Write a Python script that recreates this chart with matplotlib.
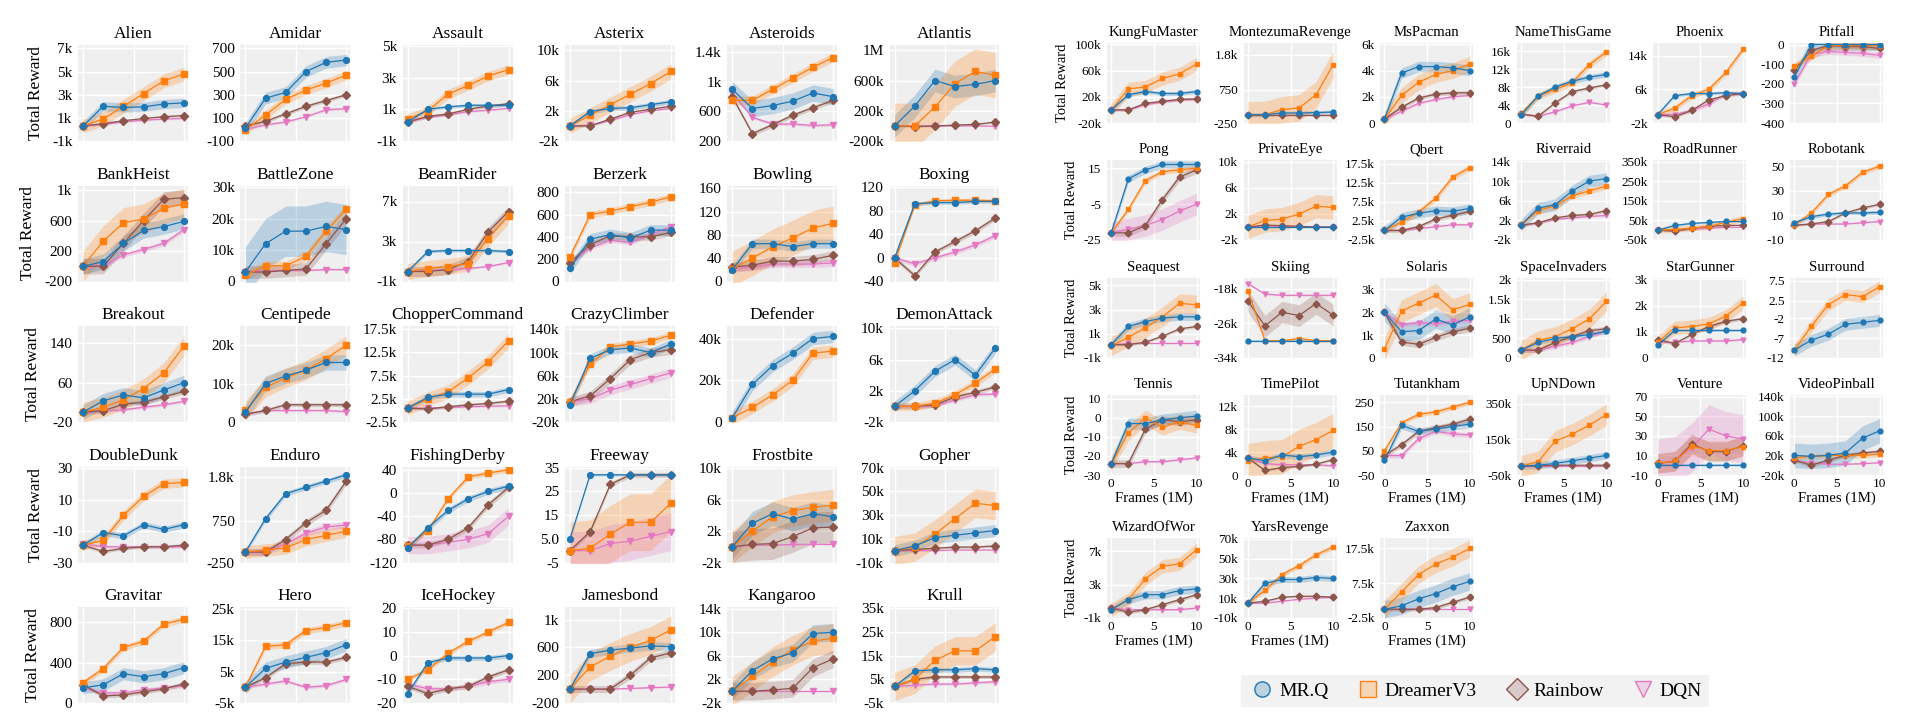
import numpy as np
import matplotlib
matplotlib.use("Agg")
import matplotlib.pyplot as plt
from matplotlib.lines import Line2D

plt.rcParams['font.family'] = ['Liberation Serif', 'DejaVu Serif']

frames = [0, 2, 4, 6, 8, 10]
methods = ["MR.Q", "DreamerV3", "Rainbow", "DQN"]

left_games = ["Alien", "Amidar", "Assault", "Asterix", "Asteroids", "Atlantis",
              "BankHeist", "BattleZone", "BeamRider", "Berzerk", "Bowling", "Boxing",
              "Breakout", "Centipede", "ChopperCommand", "CrazyClimber", "Defender", "DemonAttack",
              "DoubleDunk", "Enduro", "FishingDerby", "Freeway", "Frostbite", "Gopher",
              "Gravitar", "Hero", "IceHockey", "Jamesbond", "Kangaroo", "Krull"]
right_games = ["KungFuMaster", "MontezumaRevenge", "MsPacman", "NameThisGame", "Phoenix", "Pitfall",
               "Pong", "PrivateEye", "Qbert", "Riverraid", "RoadRunner", "Robotank",
               "Seaquest", "Skiing", "Solaris", "SpaceInvaders", "StarGunner", "Surround",
               "Tennis", "TimePilot", "Tutankham", "UpNDown", "Venture", "VideoPinball",
               "WizardOfWor", "YarsRevenge", "Zaxxon"]

# y tick labels (bottom tick = lower limit) and upper limit
yticks = {
    "Alien": "-1k 1k 3k 5k 7k", "Amidar": "-100 100 300 500 700", "Assault": "-1k 1k 3k 5k",
    "Asterix": "-2k 2k 6k 10k", "Asteroids": "200 600 1k 1.4k", "Atlantis": "-200k 200k 600k 1M",
    "BankHeist": "-200 200 600 1k", "BattleZone": "0 10k 20k 30k", "BeamRider": "-1k 3k 7k",
    "Berzerk": "0 200 400 600 800", "Bowling": "0 40 80 120 160", "Boxing": "-40 0 40 80 120",
    "Breakout": "-20 60 140", "Centipede": "0 10k 20k", "ChopperCommand": "-2.5k 2.5k 7.5k 12.5k 17.5k",
    "CrazyClimber": "-20k 20k 60k 100k 140k", "Defender": "0 20k 40k", "DemonAttack": "-2k 2k 6k 10k",
    "DoubleDunk": "-30 -10 10 30", "Enduro": "-250 750 1.8k", "FishingDerby": "-120 -80 -40 0 40",
    "Freeway": "-5 5.0 15 25 35", "Frostbite": "-2k 2k 6k 10k", "Gopher": "-10k 10k 30k 50k 70k",
    "Gravitar": "0 400 800", "Hero": "-5k 5k 15k 25k", "IceHockey": "-20 -10 0 10 20",
    "Jamesbond": "-200 200 600 1k", "Kangaroo": "-2k 2k 6k 10k 14k", "Krull": "-5k 5k 15k 25k 35k",
    "KungFuMaster": "-20k 20k 60k 100k", "MontezumaRevenge": "-250 750 1.8k", "MsPacman": "0 2k 4k 6k",
    "NameThisGame": "0 4k 8k 12k 16k", "Phoenix": "-2k 6k 14k", "Pitfall": "-400 -300 -200 -100 0",
    "Pong": "-25 -5 15", "PrivateEye": "-2k 2k 6k 10k", "Qbert": "-2.5k 2.5k 7.5k 12.5k 17.5k",
    "Riverraid": "-2k 2k 6k 10k 14k", "RoadRunner": "-50k 50k 150k 250k 350k", "Robotank": "-10 10 30 50",
    "Seaquest": "-1k 1k 3k 5k", "Skiing": "-34k -26k -18k", "Solaris": "0 1k 2k 3k",
    "SpaceInvaders": "0 500 1k 1.5k 2k", "StarGunner": "0 1k 2k 3k", "Surround": "-12 -7 -2 2.5 7.5",
    "Tennis": "-30 -20 -10 0 10", "TimePilot": "0 4k 8k 12k", "Tutankham": "-50 50 150 250",
    "UpNDown": "-50k 150k 350k", "Venture": "-10 10 30 50 70", "VideoPinball": "-20k 20k 60k 100k 140k",
    "WizardOfWor": "-1k 3k 7k", "YarsRevenge": "-10k 10k 30k 50k 70k", "Zaxxon": "-2.5k 7.5k 17.5k",
}
ytop = {
    "Alien": 7300, "Amidar": 730, "Assault": 5050, "Asterix": 10700, "Asteroids": 1500, "Atlantis": 1.07e6,
    "BankHeist": 1060, "BattleZone": 30500, "BeamRider": 8600, "Berzerk": 860, "Bowling": 165, "Boxing": 123,
    "Breakout": 175, "Centipede": 25000, "ChopperCommand": 18200, "CrazyClimber": 146000, "Defender": 46000,
    "DemonAttack": 10300, "DoubleDunk": 31, "Enduro": 2050, "FishingDerby": 46, "Freeway": 35.5,
    "Frostbite": 10200, "Gopher": 71000, "Gravitar": 950, "Hero": 25500, "IceHockey": 20.5,
    "Jamesbond": 1180, "Kangaroo": 14300, "Krull": 35500,
    "KungFuMaster": 102000, "MontezumaRevenge": 2150, "MsPacman": 6100, "NameThisGame": 17800,
    "Phoenix": 17000, "Pitfall": 8, "Pong": 19.5, "PrivateEye": 10300, "Qbert": 18500,
    "Riverraid": 14300, "RoadRunner": 360000, "Robotank": 55, "Seaquest": 5600, "Skiing": -15500,
    "Solaris": 3500, "SpaceInvaders": 2050, "StarGunner": 3050, "Surround": 8.2, "Tennis": 12,
    "TimePilot": 14000, "Tutankham": 280, "UpNDown": 400000, "Venture": 72, "VideoPinball": 143000,
    "WizardOfWor": 8600, "YarsRevenge": 71000, "Zaxxon": 20500,
}

mrq = {
    "Alien": [300, 2000, 1900, 1950, 2200, 2300], "Amidar": [10, 270, 320, 500, 580, 600],
    "Assault": [200, 1000, 1150, 1250, 1250, 1250], "Asterix": [0, 1900, 2300, 2400, 2800, 3200],
    "Asteroids": [900, 640, 680, 740, 850, 800], "Atlantis": [0, 260e3, 600e3, 520e3, 550e3, 600e3],
    "BankHeist": [0, 60, 300, 470, 520, 590], "BattleZone": [3000, 12000, 16000, 16000, 17500, 16500],
    "BeamRider": [0, 2000, 2100, 2100, 2100, 2000], "Berzerk": [120, 380, 420, 390, 460, 460],
    "Bowling": [20, 65, 65, 60, 65, 65], "Boxing": [0, 92, 94, 94, 96, 96],
    "Breakout": [0, 23, 35, 29, 45, 60], "Centipede": [2500, 10000, 12000, 13500, 15500, 15500],
    "ChopperCommand": [500, 2800, 3500, 3500, 3500, 4500], "CrazyClimber": [10e3, 90e3, 105e3, 108e3, 100e3, 115e3],
    "Defender": [2000, 18000, 27000, 33000, 40000, 41000], "DemonAttack": [0, 2000, 4500, 6000, 4000, 7500],
    "DoubleDunk": [-19, -11, -13, -6, -9, -6], "Enduro": [0, 800, 1400, 1550, 1700, 1850],
    "FishingDerby": [-95, -60, -30, -10, 3, 12], "Freeway": [5, 32, 32, 32, 32, 32],
    "Frostbite": [0, 3000, 4200, 3500, 4200, 3800], "Gopher": [0, 4000, 11000, 13000, 15000, 17000],
    "Gravitar": [150, 180, 290, 260, 290, 350], "Hero": [0, 6000, 8000, 9500, 11000, 13500],
    "IceHockey": [-16, -3, -1, -1, -1, 0], "Jamesbond": [0, 510, 560, 590, 620, 610],
    "Kangaroo": [0, 3500, 5500, 6500, 9800, 10000], "Krull": [2000, 8500, 9000, 9000, 9500, 9000],
    "KungFuMaster": [0, 23000, 28000, 25000, 25000, 28000], "MontezumaRevenge": [0, 0, 50, 50, 60, 80],
    "MsPacman": [300, 3800, 4300, 4300, 4200, 4000], "NameThisGame": [1800, 6000, 8000, 9300, 10200, 10800],
    "Phoenix": [0, 4500, 5000, 5000, 5200, 5000], "Pitfall": [-165, 0, 0, 0, 0, 0],
    "Pong": [-21, 9, 14, 17, 17, 17], "PrivateEye": [0, 0, 0, 0, 0, 0],
    "Qbert": [0, 3500, 4500, 5200, 5000, 5800], "Riverraid": [1000, 4500, 5200, 8000, 10000, 10500],
    "RoadRunner": [0, 25e3, 35e3, 40e3, 45e3, 45e3], "Robotank": [4, 9, 11, 12, 12, 12.5],
    "Seaquest": [100, 1600, 2000, 2300, 2400, 2400], "Skiing": [-30000] * 6,
    "Solaris": [2000, 1150, 1200, 1700, 1450, 1800], "SpaceInvaders": [200, 400, 500, 550, 600, 680],
    "StarGunner": [500, 1050, 1050, 1050, 1050, 1050], "Surround": [-10, -7.5, -6, -3.5, -3, -2.5],
    "Tennis": [-24, -3, -3, -1, 0, 1], "TimePilot": [3000, 2500, 3500, 3200, 3500, 4000],
    "Tutankham": [10, 155, 130, 140, 150, 160], "UpNDown": [0, 5e3, 15e3, 30e3, 45e3, 60e3],
    "Venture": [0, 0, 0, 0, 0, 0], "VideoPinball": [20e3, 18e3, 20e3, 25e3, 55e3, 70e3],
    "WizardOfWor": [0, 1200, 1800, 1800, 2300, 2500], "YarsRevenge": [5000, 25000, 29000, 29000, 31000, 30000],
    "Zaxxon": [0, 1000, 3000, 4500, 6500, 8000],
}
dreamer = {
    "Alien": [300, 900, 2000, 3100, 4200, 4800], "Amidar": [-5, 125, 260, 340, 400, 470],
    "Assault": [400, 900, 1950, 2500, 3100, 3500], "Asterix": [0, 1400, 2800, 4200, 5600, 7200],
    "Asteroids": [750, 750, 900, 1050, 1200, 1330], "Atlantis": [0, 0, 250e3, 560e3, 720e3, 670e3],
    "BankHeist": [0, 330, 570, 620, 760, 820], "BattleZone": [2000, 5000, 5000, 8000, 16000, 23000],
    "BeamRider": [0, 300, 500, 800, 3300, 5600], "Berzerk": [220, 600, 630, 670, 710, 760],
    "Bowling": [22, 40, 60, 75, 92, 100], "Boxing": [-8, 90, 97, 98, 98, 97],
    "Breakout": [0, 10, 25, 48, 80, 134], "Centipede": [3000, 9000, 11500, 13500, 16500, 20000],
    "ChopperCommand": [500, 2500, 4000, 7000, 10500, 15000], "CrazyClimber": [15e3, 80e3, 110e3, 115e3, 120e3, 130e3],
    "Defender": [2000, 7000, 13000, 20000, 33000, 34000], "DemonAttack": [0, 0, 400, 1500, 3000, 4800],
    "DoubleDunk": [-19, -16, 0, 12, 20, 21], "Enduro": [0, 50, 100, 300, 400, 500],
    "FishingDerby": [-92, -65, -10, 28, 35, 40], "Freeway": [0, 1, 7, 12, 12, 20],
    "Frostbite": [0, 2000, 3800, 4600, 5000, 5300], "Gopher": [0, 3000, 14000, 27000, 40000, 38000],
    "Gravitar": [200, 340, 550, 610, 780, 830], "Hero": [0, 13000, 13500, 18000, 19000, 20500],
    "IceHockey": [-10, -6, 1, 6, 10, 14], "Jamesbond": [0, 320, 470, 600, 700, 850],
    "Kangaroo": [0, 2500, 5000, 7000, 8500, 9000], "Krull": [2000, 5000, 13000, 17000, 17000, 23000],
    "KungFuMaster": [0, 32000, 35000, 48000, 55000, 70000], "MontezumaRevenge": [0, 0, 150, 200, 600, 1500],
    "MsPacman": [300, 2100, 3100, 3700, 4000, 4500], "NameThisGame": [2000, 6000, 7500, 9000, 13000, 15800],
    "Phoenix": [0, 1500, 4500, 6000, 10000, 15500], "Pitfall": [-110, -60, -5, -5, -5, -5],
    "Pong": [-21, -8, 8, 13, 14, 15], "PrivateEye": [0, 1000, 1200, 2000, 3200, 3000],
    "Qbert": [0, 2200, 4800, 8500, 14000, 16500], "Riverraid": [1200, 4000, 5000, 7000, 8000, 9000],
    "RoadRunner": [0, 5e3, 10e3, 20e3, 40e3, 60e3], "Robotank": [2, 12, 27, 34, 45, 50],
    "Seaquest": [0, 700, 1500, 2400, 3500, 3400], "Skiing": [-18400, -30000, -30000, -29500, -30000, -30000],
    "Solaris": [400, 2050, 2400, 2750, 2100, 2350], "SpaceInvaders": [200, 450, 550, 750, 1000, 1450],
    "StarGunner": [600, 1150, 1200, 1300, 1600, 2100], "Surround": [-10, -4, 1.5, 4, 3.5, 6],
    "Tennis": [-24, -8, 0, -5, -2, -4], "TimePilot": [2500, 3000, 3200, 5000, 6200, 7800],
    "Tutankham": [50, 165, 200, 210, 230, 250], "UpNDown": [0, 25e3, 140e3, 180e3, 230e3, 290e3],
    "Venture": [2, 4, 20, 15, 15, 19], "VideoPinball": [15e3, 18e3, 20e3, 20e3, 20e3, 22e3],
    "WizardOfWor": [0, 1200, 3700, 5200, 5500, 7200], "YarsRevenge": [5000, 18000, 34000, 43000, 54000, 62000],
    "Zaxxon": [0, 5000, 10000, 13000, 15000, 17500],
}
rainbow = {
    "Alien": [300, 500, 750, 950, 1100, 1200], "Amidar": [30, 70, 135, 200, 250, 300],
    "Assault": [200, 550, 700, 1000, 1200, 1350], "Asterix": [0, 0, 900, 1800, 2200, 2600],
    "Asteroids": [800, 300, 420, 550, 650, 750], "Atlantis": [0, -10e3, 0, 10e3, 20e3, 50e3],
    "BankHeist": [0, 0, 300, 600, 880, 900], "BattleZone": [3000, 3000, 3500, 4000, 12000, 20000],
    "BeamRider": [0, 0, 200, 1000, 4000, 6000], "Berzerk": [170, 330, 410, 400, 400, 440],
    "Bowling": [25, 28, 35, 35, 38, 45], "Boxing": [0, -30, 10, 28, 46, 68],
    "Breakout": [0, 3, 16, 20, 31, 42], "Centipede": [2000, 3000, 4500, 4500, 4500, 4500],
    "ChopperCommand": [500, 300, 800, 1200, 1500, 2000], "CrazyClimber": [15e3, 25e3, 55e3, 88e3, 100e3, 105e3],
    "Defender": None, "DemonAttack": [0, 0, 200, 1200, 1800, 2500],
    "DoubleDunk": [-19, -23, -21, -20, -20, -19], "Enduro": [0, 0, 300, 700, 1000, 1700],
    "FishingDerby": [-90, -90, -80, -60, -20, 10], "Freeway": [0, 8, 28, 32, 32, 32],
    "Frostbite": [0, 300, 400, 1300, 2400, 2500], "Gopher": [0, 1000, 2000, 3000, 3000, 4000],
    "Gravitar": [180, 70, 80, 110, 140, 190], "Hero": [0, 3000, 7500, 8000, 8000, 9500],
    "IceHockey": [-13, -16, -14, -13, -9, -6], "Jamesbond": [0, 0, 0, 200, 450, 520],
    "Kangaroo": [0, 0, 200, 500, 4000, 5500], "Krull": [2000, 5000, 6000, 6000, 6000, 6000],
    "KungFuMaster": [0, 0, 10000, 13000, 16000, 17000], "MontezumaRevenge": [0, 0, 0, 0, 0, 0],
    "MsPacman": [300, 1200, 1900, 2200, 2300, 2300], "NameThisGame": [2000, 1500, 4500, 7000, 7800, 8500],
    "Phoenix": [0, -500, 1000, 3500, 4500, 5000], "Pitfall": [-130, -30, -5, -10, -10, -20],
    "Pong": [-21, -21, -17, -2.5, 10, 14], "PrivateEye": [0, 300, 200, 100, 0, 0],
    "Qbert": [0, 0, 1000, 3000, 4000, 5000], "Riverraid": [1000, 1500, 2500, 3000, 3200, 4000],
    "RoadRunner": [0, -5e3, 10e3, 20e3, 25e3, 25e3], "Robotank": [2, 3, 5, 12, 16, 19],
    "Seaquest": [100, 100, 300, 800, 1400, 1600], "Skiing": [-20800, -26600, -23400, -24200, -21400, -24100],
    "Solaris": [2000, 700, 600, 900, 1150, 1300], "SpaceInvaders": [200, 200, 400, 550, 700, 750],
    "StarGunner": [700, 550, 900, 1200, 1400, 1500], "Surround": None,
    "Tennis": [-24, -24, -6, -1, -2, -1], "TimePilot": [3000, 800, 1300, 1500, 1900, 2700],
    "Tutankham": [30, 75, 130, 145, 160, 180], "UpNDown": [0, 0, 5e3, 5e3, 5e3, 5e3],
    "Venture": [2, 4, 22, 14, 14, 20], "VideoPinball": [10e3, 0, 10e3, 20e3, 25e3, 28e3],
    "WizardOfWor": [200, -300, 0, 600, 1200, 1800], "YarsRevenge": [5000, 7000, 11000, 12000, 12000, 11000],
    "Zaxxon": [0, 0, 0, 500, 2000, 3500],
}
dqn = {
    "Alien": [300, 450, 650, 800, 900, 950], "Amidar": [0, 40, 65, 110, 170, 180],
    "Assault": [200, 500, 650, 850, 950, 1050], "Asterix": [0, 100, 700, 1500, 2000, 2300],
    "Asteroids": [850, 520, 430, 430, 410, 420], "Atlantis": [0, 0, 0, 0, 0, -5e3],
    "BankHeist": [0, 0, 150, 220, 300, 480], "BattleZone": [3000, 3500, 3500, 3500, 3800, 3800],
    "BeamRider": [0, 100, 200, 300, 500, 900], "Berzerk": [170, 300, 370, 350, 420, 490],
    "Bowling": [22, 25, 30, 30, 30, 32], "Boxing": [0, -10, 0, 10, 22, 38],
    "Breakout": [0, 2, 5, 10, 15, 22], "Centipede": [2000, 3000, 3000, 3000, 3000, 2700],
    "ChopperCommand": [500, 500, 600, 800, 900, 1000], "CrazyClimber": [15e3, 20e3, 35e3, 45e3, 55e3, 65e3],
    "Defender": None, "DemonAttack": [0, 0, 100, 800, 1500, 1600],
    "DoubleDunk": [-18, -20, -20, -20, -20, -20], "Enduro": [0, 0, 200, 450, 600, 650],
    "FishingDerby": [-90, -90, -85, -80, -70, -40], "Freeway": [0, 0, 3, 4, 6, 8],
    "Frostbite": [0, 200, 200, 300, 300, 300], "Gopher": [0, 0, 0, 500, 500, 500],
    "Gravitar": [150, 100, 100, 130, 150, 170], "Hero": [0, 1000, 2000, 0, 500, 2500],
    "IceHockey": [-12, -14, -14, -13, -11, -10], "Jamesbond": [0, 0, 0, 10, 20, 30],
    "Kangaroo": [0, 0, 0, 0, 0, 0], "Krull": [2000, 2500, 3000, 3000, 3500, 4000],
    "KungFuMaster": [0, 0, 8000, 12000, 15000, 16000], "MontezumaRevenge": [0, 0, 0, 0, 0, 0],
    "MsPacman": [300, 900, 1500, 1800, 2000, 2100], "NameThisGame": [2000, 1500, 2500, 3800, 4600, 4000],
    "Phoenix": [0, 0, 1000, 2500, 5000, 5000], "Pitfall": [-200, -50, -35, -40, -45, -55],
    "Pong": [-21, -19, -17, -13.6, -9, -5], "PrivateEye": [0, 200, 100, 50, 0, 0],
    "Qbert": [0, 0, 500, 1000, 1500, 1500], "Riverraid": [1000, 1500, 2200, 2500, 2800, 3000],
    "RoadRunner": [0, 0, 5e3, 10e3, 15e3, 15e3], "Robotank": [2, 3, 3, 3, 4, 5],
    "Seaquest": [100, 200, 200, 200, 200, 200], "Skiing": [-16800, -19200, -19500, -19500, -19500, -19500],
    "Solaris": [2000, 1450, 1550, 1500, 1600, 1650], "SpaceInvaders": [200, 200, 300, 400, 550, 700],
    "StarGunner": [600, 600, 650, 650, 650, 700], "Surround": None,
    "Tennis": [-24, -24, -23, -23, -22, -21], "TimePilot": [3000, 2000, 1800, 1800, 1800, 1600],
    "Tutankham": [30, 30, 100, 130, 120, 115], "UpNDown": [0, 0, 0, 0, 0, 0],
    "Venture": [2, 4, 18, 37, 30, 27], "VideoPinball": [10e3, 5e3, 2e3, 2e3, 3e3, 5e3],
    "WizardOfWor": [200, 0, 0, 0, 0, 200], "YarsRevenge": [5000, 5000, 7000, 9000, 10000, 11000],
    "Zaxxon": [0, 0, 0, 0, 0, 0],
}
# half-width of the shaded band (MR.Q, DreamerV3, Rainbow, DQN)
bands = {
    "Alien": [400, 600, 100, 80], "Amidar": [50, 40, 15, 10], "Assault": [100, 300, 100, 60],
    "Asterix": [300, 1000, 150, 100], "Asteroids": [110, 60, 30, 20], "Atlantis": [150e3, 300e3, 10e3, 5e3],
    "BankHeist": [100, 200, 100, 30], "BattleZone": [8000, 1500, 2000, 300], "BeamRider": [150, 800, 500, 80],
    "Berzerk": [50, 30, 30, 20], "Bowling": [8, 30, 8, 6], "Boxing": [3, 3, 4, 4],
    "Breakout": [15, 20, 5, 3], "Centipede": [2000, 2500, 500, 300], "ChopperCommand": [600, 1500, 300, 200],
    "CrazyClimber": [8e3, 6e3, 8e3, 8e3], "Defender": [3000, 3000, 0, 0], "DemonAttack": [700, 500, 300, 200],
    "DoubleDunk": [2, 3, 1, 1], "Enduro": [60, 150, 80, 80], "FishingDerby": [5, 4, 5, 15],
    "Freeway": [0.5, 12, 1, 8], "Frostbite": [1500, 2000, 2000, 50], "Gopher": [5000, 12000, 1000, 300],
    "Gravitar": [60, 30, 20, 20], "Hero": [2000, 1000, 700, 500], "IceHockey": [1, 1, 1, 1],
    "Jamesbond": [60, 200, 50, 10], "Kangaroo": [1500, 2500, 1500, 50], "Krull": [1000, 6000, 700, 500],
    "KungFuMaster": [3000, 10000, 2000, 1500], "MontezumaRevenge": [60, 400, 0, 0], "MsPacman": [400, 600, 150, 100],
    "NameThisGame": [600, 800, 300, 200], "Phoenix": [300, 700, 300, 500], "Pitfall": [30, 20, 10, 15],
    "Pong": [2, 1.5, 2, 6], "PrivateEye": [50, 1800, 100, 50], "Qbert": [1200, 800, 500, 200],
    "Riverraid": [1200, 600, 300, 200], "RoadRunner": [5000, 15000, 3000, 2000], "Robotank": [1.5, 2, 1, 0.5],
    "Seaquest": [300, 800, 100, 30], "Skiing": [200, 300, 2500, 200], "Solaris": [400, 500, 150, 100],
    "SpaceInvaders": [60, 250, 60, 50], "StarGunner": [50, 250, 60, 30], "Surround": [1.5, 1.5, 0, 0],
    "Tennis": [3, 4, 2, 0.5], "TimePilot": [500, 3000, 200, 200], "Tutankham": [15, 10, 10, 10],
    "UpNDown": [20e3, 60e3, 3e3, 1e3], "Venture": [1, 10, 10, 25], "VideoPinball": [25e3, 5e3, 4e3, 1e3],
    "WizardOfWor": [500, 800, 200, 100], "YarsRevenge": [3000, 2500, 1000, 500], "Zaxxon": [2500, 2500, 500, 200],
}

colors = ["#1f77b4", "#ff7f0e", "#8c564b", "#e377c2"]
markers = ["o", "s", "D", "v"]


def parse_tick(s):
    if s.endswith("k"):
        return float(s[:-1]) * 1e3
    if s.endswith("M"):
        return float(s[:-1]) * 1e6
    return float(s)


def draw(ax, game, fs_title, fs_tick, ms):
    ax.set_facecolor("#efefef")
    for sp in ax.spines.values():
        sp.set_visible(False)
    for i, data in enumerate([mrq, dreamer, rainbow, dqn]):
        y = data[game]
        if y is None:
            continue
        y = np.array(y, dtype=float)
        b = bands[game][i]
        if b > 0:
            ax.fill_between(frames, y - b, y + b, color=colors[i], alpha=0.25, lw=0)
        ax.plot(frames, y, color=colors[i], marker=markers[i], ms=ms, lw=0.9, zorder=3 + (3 - i))
    labels = yticks[game].split()
    vals = [parse_tick(t) for t in labels]
    ax.set_yticks(vals)
    ax.set_yticklabels(labels)
    ax.set_ylim(vals[0], ytop[game])
    ax.set_xlim(-0.5, 10.4)
    ax.set_xticks([0, 5, 10])
    ax.grid(True, color="white", lw=1.0)
    ax.set_axisbelow(True)
    ax.tick_params(length=0, labelsize=fs_tick, pad=4)
    ax.set_title(game, fontsize=fs_title, pad=5)


W, H = 1920, 722
fig = plt.figure(figsize=(19.2, 7.22), dpi=100)

# left panel
for k, game in enumerate(left_games):
    r, c = divmod(k, 6)
    x0 = 78 + 162.3 * c
    y0 = 45 + 140.5 * r
    ax = fig.add_axes([x0 / W, 1 - (y0 + 96) / H, 110 / W, 96 / H])
    draw(ax, game, 12.5, 11, 4.2)
    ax.set_xticklabels([])
    if c == 0:
        ax.set_ylabel("Total Reward", fontsize=12.5, labelpad=6)

# right panel
row_tops = [43, 160, 278, 395, 538]
for k, game in enumerate(right_games):
    r, c = divmod(k, 6)
    x0 = 1107 + 136.6 * c
    y0 = row_tops[r]
    ax = fig.add_axes([x0 / W, 1 - (y0 + 80) / H, 93 / W, 80 / H])
    draw(ax, game, 10.7, 9.5, 3.5)
    if r >= 3:
        ax.set_xticklabels(["0", "5", "10"])
        ax.set_xlabel("Frames (1M)", fontsize=10.7, labelpad=1)
        ax.tick_params(axis="x", pad=2)
    else:
        ax.set_xticklabels([])
    if c == 0:
        ax.set_ylabel("Total Reward", fontsize=10.5, labelpad=4)

handles = [Line2D([], [], ls="none", marker=markers[i], ms=11,
                  markerfacecolor=matplotlib.colors.to_rgba(colors[i], 0.25),
                  markeredgecolor=colors[i], markeredgewidth=1.0) for i in range(4)]
fig.legend(handles, methods, loc="center", bbox_to_anchor=(1475 / W, 1 - 691 / H), ncol=4,
           fontsize=14, frameon=True, facecolor="#efefef", edgecolor="none", fancybox=False,
           handletextpad=0.1, columnspacing=1.3, borderpad=0.35, handlelength=1.5)

fig.savefig("out.png", dpi=100)
